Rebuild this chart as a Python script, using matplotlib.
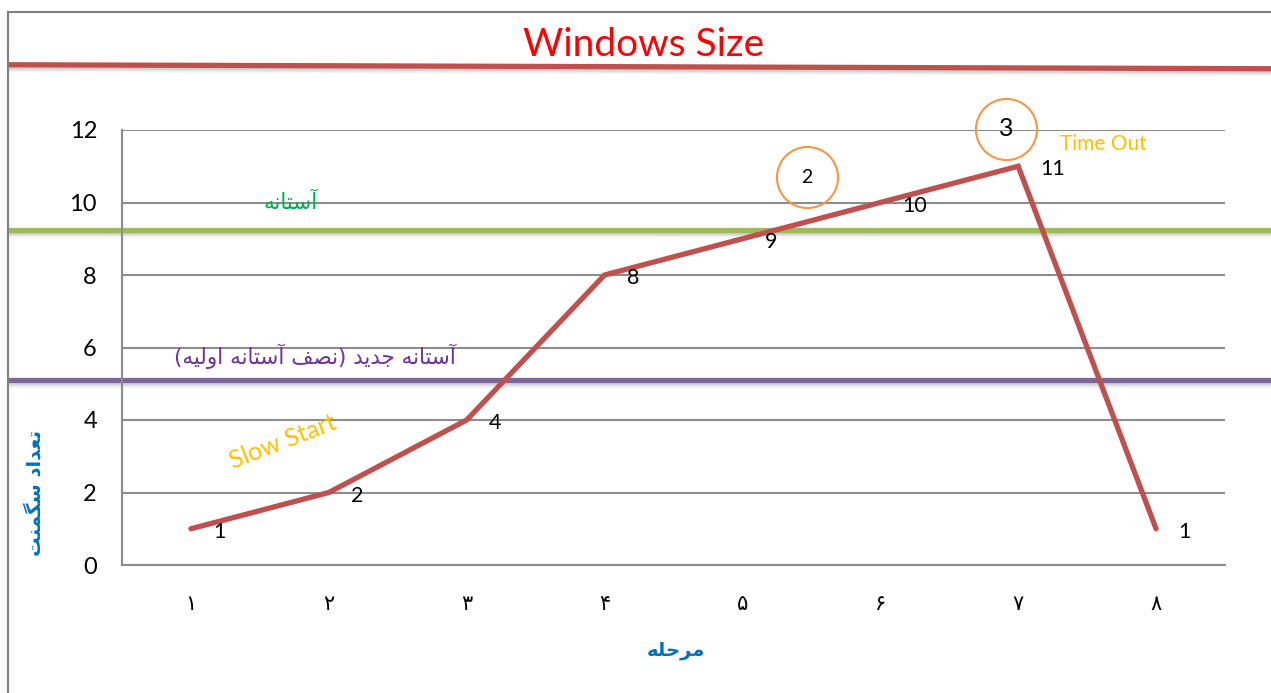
import matplotlib
matplotlib.use("Agg")
import matplotlib.pyplot as plt
from matplotlib.lines import Line2D

# ---------------- data ----------------
stages = [1, 2, 3, 4, 5, 6, 7, 8]
stage_labels = ["۱", "۲", "۳", "۴", "۵", "۶", "۷", "۸"]
window_size = [1, 2, 4, 8, 9, 10, 11, 1]
y_ticks = [0, 2, 4, 6, 8, 10, 12]
threshold = 9.25          # green line (آستانه)
new_threshold = 5.1       # purple line (new threshold)
title_line = 13.8         # red line under title
circle_marks = [(5.47, 10.7, "2"), (6.91, 12.03, "3")]

title = "Windows Size"
y_label = "تعداد سگمنت"
x_label = "مرحله"
thr_label = "آستانه"
new_thr_label = "آستانه جدید (نصف آستانه اولیه)"

# ---------------- simple Arabic/Persian shaping ----------------
FORMS = {
    "آ": ("\uFE81", "\uFE82"), "ا": ("\uFE8D", "\uFE8E"),
    "د": ("\uFEA9", "\uFEAA"), "ر": ("\uFEAD", "\uFEAE"),
    "و": ("\uFEED", "\uFEEE"),
    "س": ("\uFEB1", "\uFEB2", "\uFEB3", "\uFEB4"),
    "ت": ("\uFE95", "\uFE96", "\uFE97", "\uFE98"),
    "ن": ("\uFEE5", "\uFEE6", "\uFEE7", "\uFEE8"),
    "ه": ("\uFEE9", "\uFEEA", "\uFEEB", "\uFEEC"),
    "ج": ("\uFE9D", "\uFE9E", "\uFE9F", "\uFEA0"),
    "ی": ("\uFBFC", "\uFBFD", "\uFBFE", "\uFBFF"),
    "ص": ("\uFEB9", "\uFEBA", "\uFEBB", "\uFEBC"),
    "ف": ("\uFED1", "\uFED2", "\uFED3", "\uFED4"),
    "ل": ("\uFEDD", "\uFEDE", "\uFEDF", "\uFEE0"),
    "م": ("\uFEE1", "\uFEE2", "\uFEE3", "\uFEE4"),
    "ح": ("\uFEA1", "\uFEA2", "\uFEA3", "\uFEA4"),
    "ع": ("\uFEC9", "\uFECA", "\uFECB", "\uFECC"),
    "گ": ("\uFB92", "\uFB93", "\uFB94", "\uFB95"),
}


def shape(text):
    out = []
    n = len(text)
    for i, ch in enumerate(text):
        f = FORMS.get(ch)
        if f is None:
            out.append(ch)
            continue
        prev = text[i - 1] if i > 0 else None
        nxt = text[i + 1] if i < n - 1 else None
        prev_joins = prev in FORMS and len(FORMS[prev]) == 4
        next_exists = nxt in FORMS
        if len(f) == 2:
            out.append(f[1] if prev_joins else f[0])
        else:
            if prev_joins and next_exists:
                out.append(f[3])
            elif prev_joins:
                out.append(f[1])
            elif next_exists:
                out.append(f[2])
            else:
                out.append(f[0])
    vis = "".join(reversed(out))
    vis = vis.translate(str.maketrans({"(": ")", ")": "("}))
    return vis


AR = ["DejaVu Sans"]
LAT = ["Lato", "DejaVu Sans"]

# ---------------- figure ----------------
W, H = 1271, 693
fig = plt.figure(figsize=(W / 100, H / 100), dpi=100)
fig.patch.set_facecolor("white")

ax = fig.add_axes([122 / W, 1 - 565 / H, (1225 - 122) / W, (565 - 130) / H])
ax.set_xlim(0.5, 8.5)
ax.set_ylim(0, 12)

grid_c = "#8c8c8c"
ax.set_yticks(y_ticks)
ax.set_yticklabels([str(v) for v in y_ticks], fontsize=17, family=LAT)
ax.set_xticks(stages)
ax.set_xticklabels(stage_labels, fontsize=15, family=AR)
ax.tick_params(axis="both", length=0)
ax.tick_params(axis="y", pad=18)
ax.tick_params(axis="x", pad=21)
ax.yaxis.grid(True, color=grid_c, linewidth=1.5)
ax.set_axisbelow(True)
for s in ["top", "right"]:
    ax.spines[s].set_visible(False)
for s in ["left", "bottom"]:
    ax.spines[s].set_color(grid_c)
    ax.spines[s].set_linewidth(1.5)

# main line
ax.plot(stages, window_size, color="#C0504D", linewidth=3.8,
        solid_capstyle="round", solid_joinstyle="miter", zorder=3)

# data labels
for x, y in zip(stages, window_size):
    ax.annotate(str(y), (x, y), xytext=(22, -3), textcoords="offset pixels",
                ha="left", va="center", fontsize=15.5, family=LAT, color="black",
                zorder=5)

# circles
for cx, cy, lab in circle_marks:
    ax.plot([cx], [cy], "o", ms=44, mfc="none", mec="#F79646", mew=1.5,
            clip_on=False, zorder=4)
    ax.text(cx, cy, lab, ha="center", va="center",
            fontsize=14 if lab == "2" else 18, family=LAT, color="black",
            zorder=5)

# horizontal guide lines in data coordinates, spanning the whole figure width
x0 = ax.transData.inverted().transform(fig.transFigure.transform((8 / W, 0)))[0]
x1 = ax.transData.inverted().transform(fig.transFigure.transform((1.0, 0)))[0]


def hline(y, color, yend=None, lw=3.8):
    ye = y if yend is None else yend
    # soft shadow
    for k, a in [(0.06, 0.18), (0.1, 0.10), (0.14, 0.05)]:
        ax.plot([x0, x1], [y - k, ye - k], color="#707070", alpha=a,
                linewidth=lw, clip_on=False, zorder=2,
                solid_capstyle="butt")
    ax.plot([x0, x1], [y, ye], color=color, linewidth=lw, clip_on=False,
            zorder=2.5, solid_capstyle="butt")


hline(title_line, "#C0504D", yend=title_line - 0.11)
hline(threshold, "#9BBB59")
hline(new_threshold, "#8064A2")

# annotations text
ax.text(1.72, 10.0, shape(thr_label), ha="center", va="center",
        fontsize=15.5, color="#00B050", family=AR)
ax.text(1.9, 5.75, shape(new_thr_label), ha="center", va="center",
        fontsize=15.5, color="#7030A0", family=AR)
ax.text(1.67, 3.4, "Slow Start", ha="center", va="center", rotation=21,
        fontsize=18, color="#FFC000", family=LAT)
ax.text(7.3, 11.62, "Time Out", ha="left", va="center",
        fontsize=15, color="#FFC000", family=LAT)

# titles / axis labels in figure coordinates
fig.text(644 / W, 1 - 45 / H, title, ha="center", va="center",
         fontsize=28, color="#FF0000", family=LAT)
fig.text(35 / W, 1 - 493 / H, shape(y_label), ha="center", va="center",
         rotation=90, fontsize=14, color="#0070C0", fontweight="bold",
         family=AR)
fig.text(676 / W, 1 - 650 / H, shape(x_label), ha="center", va="center",
         fontsize=14, color="#0070C0", fontweight="bold", family=AR)

# frame (left and top border)
fig.add_artist(Line2D([8 / W, 8 / W], [0, 1 - 12 / H], color="#808080",
                      linewidth=1.5, transform=fig.transFigure))
fig.add_artist(Line2D([8 / W, 1], [1 - 12 / H, 1 - 12 / H], color="#808080",
                      linewidth=1.5, transform=fig.transFigure))

fig.savefig("out.png", dpi=100, facecolor="white")
